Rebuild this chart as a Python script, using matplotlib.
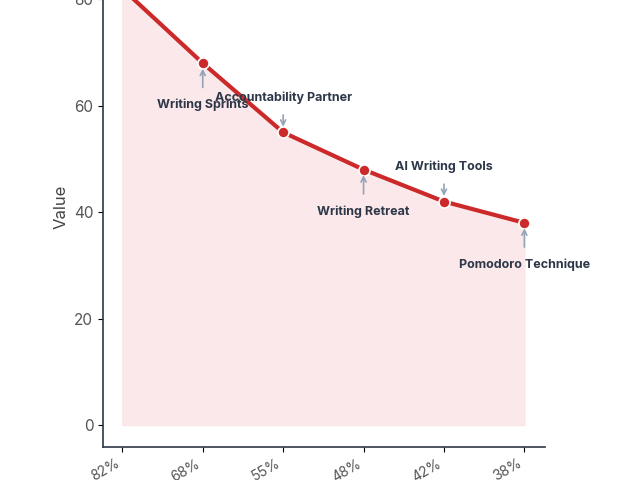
import matplotlib.pyplot as plt

plt.rcParams["font.family"] = ["Inter", "DejaVu Sans"]

categories = ["82%", "68%", "55%", "48%", "42%", "38%"]
values = [82, 68, 55, 48, 42, 38]
labels = ["", "Writing Sprints", "Accountability Partner", "Writing Retreat",
          "AI Writing Tools", "Pomodoro Technique"]
# label offsets (points) : below (-) or above (+)
offsets = [0, -30, 25, -30, 25, -30]

RED = "#cc2a2a"
DARK = "#2d3748"

fig = plt.figure(figsize=(6.4, 4.8), dpi=100)
ax = fig.add_axes([0.161, 0.069, 0.691, 0.999])
x = list(range(len(categories)))
ax.fill_between(x, values, 0, color="#fbe4e7", alpha=0.85, zorder=1)
ax.plot(x, values, color=RED, lw=3, marker="o", ms=8,
        markeredgecolor="white", markeredgewidth=1.2, zorder=3)

for xi, v, lab, off in zip(x, values, labels, offsets):
    if not lab:
        continue
    ax.annotate(lab, xy=(xi, v), xytext=(0, off), textcoords="offset points",
                ha="center", va="center", fontsize=9, fontweight="bold", color=DARK,
                arrowprops=dict(arrowstyle="->", color="#94a3b8", lw=1.2,
                                shrinkA=6, shrinkB=4), zorder=4)

ax.set_xlim(-0.24, 5.26)
ax.set_ylim(-4.1, 86)
ax.set_xticks(x)
ax.set_xticklabels(categories, rotation=30, ha="right", color="#555555")
ax.set_yticks([0, 20, 40, 60, 80])
ax.tick_params(axis="y", labelsize=11, labelcolor="#555555")
ax.tick_params(axis="x", labelsize=10)
ax.set_ylabel("Value", fontsize=12, color="#444444")
for s in ["top", "right"]:
    ax.spines[s].set_visible(False)
for s in ["left", "bottom"]:
    ax.spines[s].set_color(DARK)
    ax.spines[s].set_linewidth(1.2)

fig.savefig("out.png", dpi=100)
